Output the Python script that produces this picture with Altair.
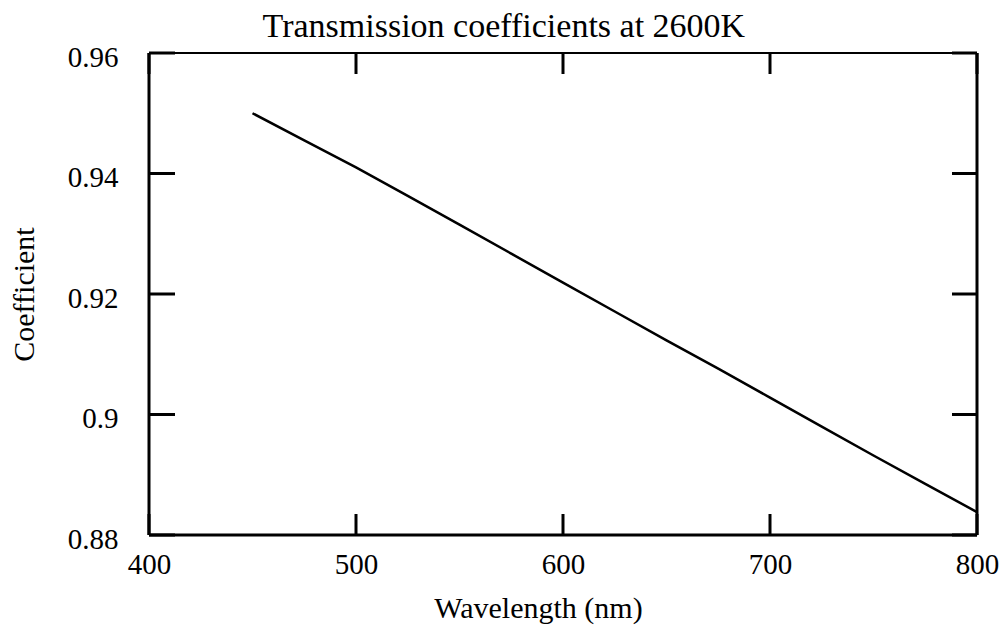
import altair as alt
import pandas as pd

# Transmission coefficient vs wavelength at 2600 K
wavelength_nm = [450, 475, 500, 525, 550, 575, 600, 625, 650, 675, 700, 725, 750, 775, 800]
coefficient = [0.9500, 0.9455, 0.9410, 0.9363, 0.9315, 0.9267, 0.9219, 0.9171,
               0.9123, 0.9076, 0.9028, 0.8980, 0.8932, 0.8885, 0.8838]

x_ticks = [400, 500, 600, 700, 800]
y_ticks = [0.88, 0.90, 0.92, 0.94, 0.96]

W, H = 828, 482
FONT = "Liberation Serif"
LABEL_SIZE = 29
AXIS_TITLE_SIZE = 30

curve = pd.DataFrame({"wl": wavelength_nm, "coef": coefficient})
xt = pd.DataFrame({"wl": x_ticks})
yt = pd.DataFrame({"coef": y_ticks})

x_scale = alt.Scale(domain=[400, 800], nice=False, zero=False)
y_scale = alt.Scale(domain=[0.88, 0.96], nice=False, zero=False)

label_expr = "datum.value == 0.9 ? '0.9' : format(datum.value, '.2f')"

x_axis = alt.Axis(values=x_ticks, format="d", title="Wavelength (nm)",
                  grid=False, domain=False, ticks=False, tickSize=0,
                  labelFont=FONT, labelFontSize=LABEL_SIZE, labelColor="black",
                  labelBaseline="alphabetic", labelPadding=38,
                  labelFlush=False, labelOverlap=False,
                  titleFont=FONT, titleFontSize=AXIS_TITLE_SIZE, titleFontWeight="normal",
                  titleColor="black", titleBaseline="alphabetic",
                  titleX=389, titleY=82, titleAnchor="start", titleAlign="center")
y_axis = alt.Axis(values=y_ticks, labelExpr=label_expr, title="Coefficient",
                  grid=False, domain=False, ticks=False, tickSize=0,
                  labelFont=FONT, labelFontSize=LABEL_SIZE, labelColor="black",
                  labelBaseline="middle", labelPadding=31, labelOffset=4,
                  labelFlush=False, labelOverlap=False,
                  titleFont=FONT, titleFontSize=AXIS_TITLE_SIZE, titleFontWeight="normal",
                  titleColor="black", titleAngle=270, titleBaseline="alphabetic",
                  titleX=-116, titleY=241, titleAlign="center")

X = alt.X("wl:Q", scale=x_scale, axis=x_axis, title="Wavelength (nm)")
Y = alt.Y("coef:Q", scale=y_scale, axis=y_axis, title="Coefficient")

line = alt.Chart(curve).mark_line(color="black", strokeWidth=2.5).encode(x=X, y=Y)

tick_w = 3
bottom_ticks = alt.Chart(xt).mark_rule(color="black", strokeWidth=tick_w).encode(
    x=X, y=alt.value(H), y2=alt.value(H - 21))
top_ticks = alt.Chart(xt).mark_rule(color="black", strokeWidth=tick_w).encode(
    x=X, y=alt.value(0), y2=alt.value(21))
left_ticks = alt.Chart(yt).mark_rule(color="black", strokeWidth=tick_w).encode(
    y=Y, x=alt.value(0), x2=alt.value(26))
right_ticks = alt.Chart(yt).mark_rule(color="black", strokeWidth=tick_w).encode(
    y=Y, x=alt.value(W - 25), x2=alt.value(W))

one = alt.Data(values=[{"k": 0}])
left_border = alt.Chart(one).mark_rule(color="black", strokeWidth=3).encode(
    x=alt.value(0), y=alt.value(0), y2=alt.value(H))
right_border = alt.Chart(one).mark_rule(color="black", strokeWidth=3).encode(
    x=alt.value(W), y=alt.value(0), y2=alt.value(H))
top_border = alt.Chart(one).mark_rule(color="black", strokeWidth=2).encode(
    y=alt.value(0), x=alt.value(0), x2=alt.value(W))
bottom_border = alt.Chart(one).mark_rule(color="black", strokeWidth=3).encode(
    y=alt.value(H), x=alt.value(0), x2=alt.value(W))

chart = alt.layer(
    line, bottom_ticks, top_ticks, left_ticks, right_ticks,
    left_border, right_border, top_border, bottom_border,
).properties(
    width=W, height=H,
    title=alt.TitleParams("Transmission coefficients at 2600K", font=FONT, fontSize=34,
                          fontWeight="normal", color="black", anchor="middle",
                          frame="bounds", baseline="alphabetic", offset=5, dy=33),
    autosize=alt.AutoSizeParams(type="none"),
    padding={"left": 149, "top": 53, "right": 30, "bottom": 93},
).configure_view(stroke=None).configure(background="white")

chart.save("out.html", embed_options={"renderer": "svg", "actions": False})
